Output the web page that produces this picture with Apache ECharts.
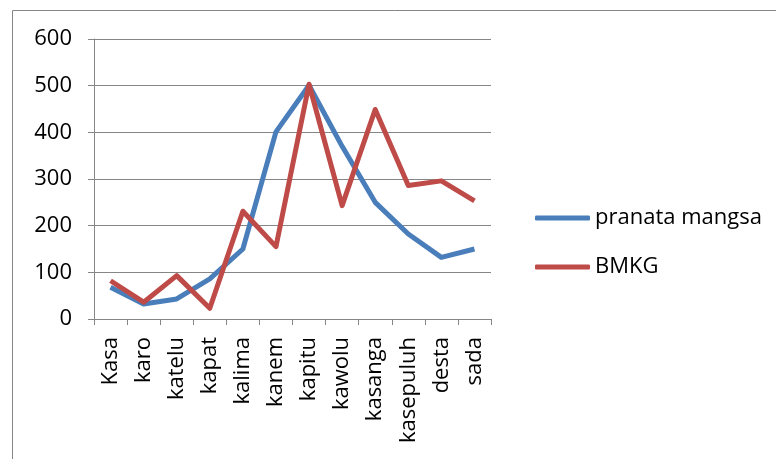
<!DOCTYPE html>
<html><head><meta charset="utf-8">
<script src="https://cdn.jsdelivr.net/npm/echarts@6/dist/echarts.min.js"></script>
<style>html,body{margin:0;padding:0;background:#fff}#c{width:776px;height:459px}</style>
</head><body><div id="c"></div>
<script>
const categories = ['Kasa','karo','katelu','kapat','kalima','kanem','kapitu','kawolu','kasanga','kasepuluh','desta','sada'];
const pranataMangsa = [68, 32, 43, 86, 150, 401, 501, 370, 250, 182, 132, 150];
const bmkg = [82, 36, 93, 23, 231, 155, 503, 243, 449, 286, 296, 253];
const yTicks = [0, 100, 200, 300, 400, 500, 600];

const chart = echarts.init(document.getElementById('c'), null, {renderer:'canvas'});
const font = "'Open Sans', 'Liberation Sans', sans-serif";
chart.setOption({
  animation:false,
  backgroundColor:'#fff',
  graphic:[{type:'rect', shape:{x:12.5,y:10.5,width:800,height:500}, style:{fill:'none', stroke:'#868686', lineWidth:1}}],
  grid:{left:94, right:285, top:39, bottom:140, containLabel:false},
  legend:{
    orient:'vertical', left:530, top:200, itemWidth:55, itemHeight:5, itemGap:23,
    icon:'roundRect',
    textStyle:{fontSize:22, lineHeight:26, fontFamily:font, color:'#000'},
    data:[{name:'pranata mangsa', itemStyle:{color:'#4A7EBB'}}, {name:'BMKG', itemStyle:{color:'#BE4B48'}}]
  },
  xAxis:{
    type:'category', data:categories, boundaryGap:true,
    axisLine:{lineStyle:{color:'#868686', width:1}},
    axisTick:{show:true, length:6, alignWithLabel:false, lineStyle:{color:'#868686'}},
    axisLabel:{rotate:90, fontSize:22, fontFamily:font, color:'#000', margin:18, interval:0}
  },
  yAxis:{
    type:'value', min:0, max:600, interval:100,
    axisLine:{show:true, lineStyle:{color:'#868686'}},
    axisTick:{show:true, length:6, lineStyle:{color:'#868686'}},
    splitLine:{lineStyle:{color:'#868686', width:1}},
    axisLabel:{fontSize:22, fontFamily:font, color:'#000', margin:22,
      formatter:v=> yTicks.includes(v) ? String(v) : ''}
  },
  series:[
    {name:'pranata mangsa', type:'line', data:pranataMangsa, symbol:'none',
     lineStyle:{color:'#4A7EBB', width:5, join:'round'}, itemStyle:{color:'#4A7EBB'}},
    {name:'BMKG', type:'line', data:bmkg, symbol:'none',
     lineStyle:{color:'#BE4B48', width:5, join:'round'}, itemStyle:{color:'#BE4B48'}}
  ]
});
</script></body></html>
